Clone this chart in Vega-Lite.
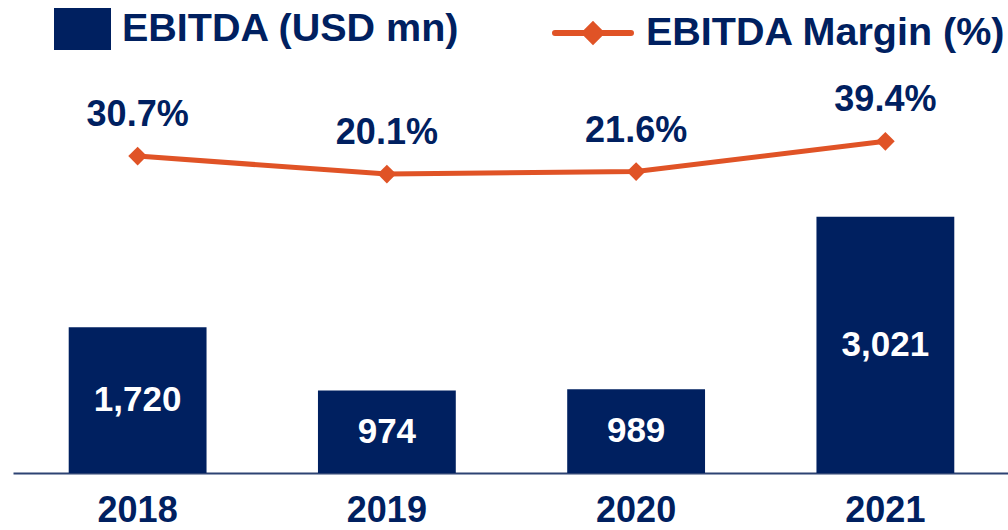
{
  "$schema": "https://vega.github.io/schema/vega-lite/v6.json",
  "width": 997,
  "height": 413,
  "padding": {"left": 13, "top": 60, "right": 0, "bottom": 57},
  "autosize": {"type": "none"},
  "background": "white",
  "config": {"view": {"stroke": null}, "font": "Liberation Sans"},
  "data": {
    "values": [
      {"year": "2018", "ebitda": 1720, "margin": 0.307},
      {"year": "2019", "ebitda": 974, "margin": 0.201},
      {"year": "2020", "ebitda": 989, "margin": 0.216},
      {"year": "2021", "ebitda": 3021, "margin": 0.394}
    ]
  },
  "encoding": {
    "x": {
      "field": "year",
      "type": "nominal",
      "scale": {"paddingInner": 0.447, "paddingOuter": 0.2235},
      "axis": {
        "title": null,
        "domainColor": "#2d4373",
        "domainWidth": 2,
        "ticks": false,
        "labelFontSize": 36,
        "labelFont": "Liberation Sans",
        "labelFontWeight": "bold",
        "labelColor": "#002060",
        "labelPadding": 20,
        "labelAngle": 0
      }
    }
  },
  "layer": [
    {
      "mark": {"type": "bar"},
      "encoding": {
        "y": {"field": "ebitda", "type": "quantitative", "scale": {"domain": [0, 4870]}, "axis": null},
        "color": {
          "datum": "EBITDA (USD mn)",
          "type": "nominal",
          "scale": {"range": ["#002060"]},
          "legend": {
            "orient": "none",
            "legendX": 41,
            "legendY": -59.5,
            "title": null,
            "symbolType": "M-1,-0.737H1V0.737H-1Z",
            "symbolSize": 3249,
            "symbolStrokeWidth": 0,
            "labelFontSize": 39.5,
            "labelFont": "Liberation Sans",
            "labelFontWeight": "bold",
            "labelColor": "#002060",
            "labelOffset": 11,
            "labelLimit": 0
          }
        }
      }
    },
    {
      "mark": {"type": "text", "color": "white", "fontSize": 35, "fontWeight": "bold", "baseline": "middle", "font": "Liberation Sans"},
      "encoding": {
        "y": {"field": "ebitda", "type": "quantitative", "scale": {"domain": [0, 9740]}, "axis": null},
        "text": {"field": "ebitda", "type": "quantitative", "format": ","}
      }
    },
    {
      "mark": {"type": "line", "strokeWidth": 5},
      "encoding": {
        "y": {"field": "margin", "type": "quantitative", "scale": {"domain": [-1.557, 0.872]}, "axis": null},
        "stroke": {
          "datum": "EBITDA Margin (%)",
          "type": "nominal",
          "scale": {"range": ["#e05326"]},
          "legend": {
            "orient": "none",
            "legendX": 539,
            "legendY": -68,
            "title": null,
            "symbolType": "M-1,0H1M0,-0.21L0.21,0L0,0.21L-0.21,0Z",
            "symbolSize": 5776,
            "symbolStrokeWidth": 6,
            "symbolFillColor": "#e05326",
            "labelFontSize": 39.5,
            "labelFont": "Liberation Sans",
            "labelFontWeight": "bold",
            "labelColor": "#002060",
            "labelOffset": 12,
            "labelLimit": 0,
            "encode": {"symbols": {"update": {"fill": {"value": "#e05326"}, "strokeCap": {"value": "round"}}}}
          }
        }
      }
    },
    {
      "mark": {"type": "point", "shape": "diamond", "filled": true, "size": 350, "color": "#e05326", "opacity": 1},
      "encoding": {
        "y": {"field": "margin", "type": "quantitative", "scale": {"domain": [-1.557, 0.872]}, "axis": null}
      }
    },
    {
      "mark": {"type": "text", "color": "#002060", "fontSize": 36, "fontWeight": "bold", "baseline": "alphabetic", "dy": -30, "font": "Liberation Sans"},
      "encoding": {
        "y": {"field": "margin", "type": "quantitative", "scale": {"domain": [-1.557, 0.872]}, "axis": null},
        "text": {"field": "margin", "type": "quantitative", "format": ".1%"}
      }
    }
  ],
  "resolve": {"scale": {"y": "independent"}}
}
